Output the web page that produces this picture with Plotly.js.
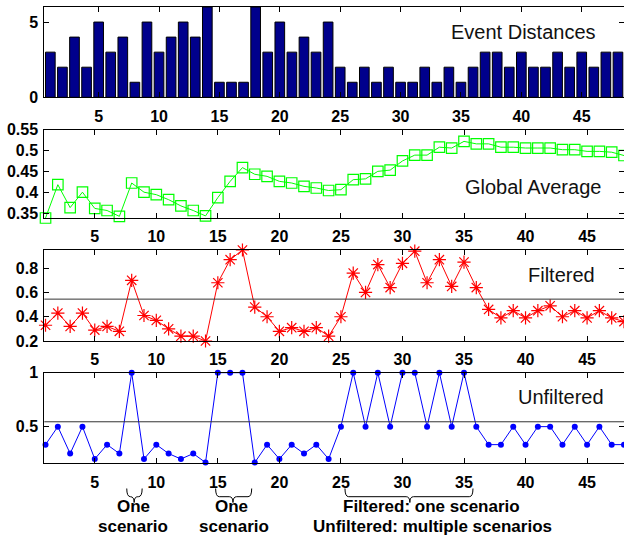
<!DOCTYPE html>
<html><head><meta charset="utf-8">
<script src="https://cdn.plot.ly/plotly-3.0.1.min.js"></script>
<style>html,body{margin:0;padding:0;background:#fff;}#chart{width:624px;height:548px;}</style>
</head><body><div id="chart"></div>
<script>
// ---- data ----
const steps = [1,2,3,4,5,6,7,8,9,10,11,12,13,14,15,16,17,18,19,20,21,22,23,24,25,26,27,28,29,30,31,32,33,34,35,36,37,38,39,40,41,42,43,44,45,46,47,48];
const eventDistances = [3,2,4,2,5,3,4,1,5,3, 4,5,4,6,1,1,1,6,3,5, 3,4,3,5,2,1,2,1,2,1, 1,2,1,2,1,2,3,3,2,3, 2,2,3,2,3,2,3,3];
const globalAverage = [0.338,0.418,0.363,0.400,0.361,0.356,0.342,0.422,0.400,0.394,
  0.382,0.367,0.356,0.343,0.387,0.426,0.459,0.443,0.438,0.426,
  0.422,0.414,0.410,0.404,0.406,0.430,0.432,0.450,0.453,0.475,
  0.489,0.489,0.508,0.506,0.522,0.516,0.516,0.508,0.508,0.506,
  0.506,0.506,0.502,0.502,0.498,0.498,0.496,0.488];
const filtered = [0.33,0.43,0.32,0.43,0.29,0.32,0.28,0.70,0.41,0.37,
  0.30,0.24,0.24,0.20,0.68,0.87,0.95,0.48,0.40,0.28,
  0.31,0.28,0.31,0.24,0.40,0.76,0.60,0.83,0.64,0.84,
  0.94,0.68,0.87,0.65,0.85,0.64,0.46,0.39,0.45,0.39,
  0.45,0.49,0.40,0.45,0.39,0.45,0.39,0.36];
const unfiltered = [0.333,0.5,0.25,0.5,0.2,0.333,0.25,1,0.2,0.333,
  0.25,0.2,0.25,0.167,1,1,1,0.167,0.333,0.2,
  0.333,0.25,0.333,0.2,0.5,1,0.5,1,0.5,1,
  1,0.5,1,0.5,1,0.5,0.333,0.333,0.5,0.333,
  0.5,0.5,0.333,0.5,0.333,0.5,0.333,0.333];
const threshold = 0.545;
const xTicks = [5,10,15,20,25,30,35,40,45];
const panelLabels = ['Event Distances','Global Average','Filtered','Unfiltered'];
const y1Ticks = [0,5];
const y2Ticks = [0.35,0.4,0.45,0.5,0.55];
const y2Text = ['0.35','0.4','0.45','0.5','0.55'];
const y3Ticks = [0.2,0.4,0.6,0.8];
const y3Text = ['0.2','0.4','0.6','0.8'];
const y4Ticks = [0.5,1];
const y4Text = ['0.5','1'];
// braces: [start, end, tip] in step units; captions
const braces = [[7.6,8.85,8.2],[14.82,17.75,16.23],[25.33,35.73,30.6]];
const captions = [['One','scenario'],['One','scenario'],['Filtered: one scenario','Unfiltered: multiple scenarios']];

// ---- layout helpers ----
const H = 548, W = 624;
const py = p => 1 - p / H;
const FONT = 'Liberation Sans, Arial, Helvetica, sans-serif';
const tickFont = {family: FONT, size: 16, color: '#000', weight: 'bold'};
const xDom = [44.3 / W, 1];
function axisBase() {
  return {showline: true, linecolor: '#000', linewidth: 1, mirror: 'allticks',
    ticks: 'inside', ticklen: 5, tickcolor: '#000', tickwidth: 1,
    showgrid: false, zeroline: false, tickfont: tickFont, fixedrange: true};
}
function xAxis(anchor, range) {
  return Object.assign(axisBase(), {domain: xDom, anchor: anchor, range: range,
    tickmode: 'array', tickvals: xTicks, ticktext: xTicks.map(String), ticklabelstandoff: 4});
}
function yAxis(anchor, dom, range, vals, text) {
  return Object.assign(axisBase(), {domain: dom, anchor: anchor, range: range,
    tickmode: 'array', tickvals: vals, ticktext: text, ticklabelstandoff: 2});
}

const traces = [
  {type: 'bar', x: steps, y: eventDistances, xaxis: 'x', yaxis: 'y', width: 0.8,
   marker: {color: 'rgb(0,0,140)', line: {color: '#000', width: 1}}, hoverinfo: 'x+y'},
  {type: 'scatter', mode: 'lines+markers', x: steps, y: globalAverage, xaxis: 'x2', yaxis: 'y2',
   line: {color: '#00ff00', width: 1}, cliponaxis: false,
   marker: {symbol: 'square-open', size: 10.5, color: '#00ff00', line: {width: 1.2, color: '#00ff00'}}},
  {type: 'scatter', mode: 'lines+markers', x: steps, y: filtered, xaxis: 'x3', yaxis: 'y3',
   line: {color: '#ff0000', width: 1}, cliponaxis: false,
   marker: {symbol: 'asterisk-open', size: 11, color: '#ff0000', line: {width: 1.2, color: '#ff0000'}}},
  {type: 'scatter', mode: 'lines+markers', x: steps, y: unfiltered, xaxis: 'x4', yaxis: 'y4',
   line: {color: '#0000ff', width: 1}, cliponaxis: false,
   marker: {symbol: 'circle', size: 6, color: '#0000ff'}}
];

const shapes = [
  {type: 'line', xref: 'x3 domain', yref: 'y3', x0: 0, x1: 1, y0: threshold, y1: threshold, line: {color: '#333', width: 1}},
  {type: 'line', xref: 'x4 domain', yref: 'y4', x0: 0, x1: 1, y0: threshold, y1: threshold, line: {color: '#333', width: 1}}
];
const yt = py(488.5), ym = py(496.7), yb = py(502.5), r = 0.3;
braces.forEach(b => {
  const [a, e, t] = b;
  const path = `M ${a},${yt} Q ${a},${ym} ${a + r},${ym} L ${t - r},${ym} Q ${t},${ym} ${t},${yb} ` +
               `Q ${t},${ym} ${t + r},${ym} L ${e - r},${ym} Q ${e},${ym} ${e},${yt}`;
  shapes.push({type: 'path', xref: 'x4', yref: 'paper', path: path, line: {color: '#000', width: 1}});
});

const labelPos = [[523, 32], [533, 187], [561, 275], [560.5, 397]];
const annotations = panelLabels.map((t, i) => ({
  text: t, xref: 'paper', yref: 'paper', x: labelPos[i][0] / W, y: py(labelPos[i][1]),
  xanchor: 'center', yanchor: 'middle', showarrow: false,
  font: {family: FONT, size: 20, color: '#111'}}));
const capX = [[133, 133], [231, 234], [431, 432]];
const capY = [506, 526];
captions.forEach((c, i) => c.forEach((t, j) => annotations.push({
  text: t, xref: 'paper', yref: 'paper', x: capX[i][j] / W, y: py(capY[j]),
  xanchor: 'center', yanchor: 'middle', showarrow: false, borderpad: 0,
  font: {family: FONT, size: 17, color: '#000', weight: 'bold'}})));

const layout = {
  width: W, height: H, margin: {l: 0, r: 0, t: 0, b: 0},
  paper_bgcolor: '#fff', plot_bgcolor: '#fff', showlegend: false,
  xaxis: xAxis('y', [0.5, 48.5]),
  yaxis: yAxis('x', [py(97.3), py(7)], [0, 6], y1Ticks, y1Ticks.map(String)),
  xaxis2: xAxis('y2', [0.9, 48]),
  yaxis2: yAxis('x2', [py(218), py(129.7)], [0.338, 0.55], y2Ticks, y2Text),
  xaxis3: xAxis('y3', [0.9, 48]),
  yaxis3: yAxis('x3', [py(341), py(250)], [0.2, 0.95], y3Ticks, y3Text),
  xaxis4: xAxis('y4', [0.9, 48]),
  yaxis4: yAxis('x4', [py(463.3), py(372.7)], [0.16, 1], y4Ticks, y4Text),
  shapes: shapes, annotations: annotations
};
Plotly.newPlot('chart', traces, layout, {displayModeBar: false, staticPlot: true});
</script></body></html>
